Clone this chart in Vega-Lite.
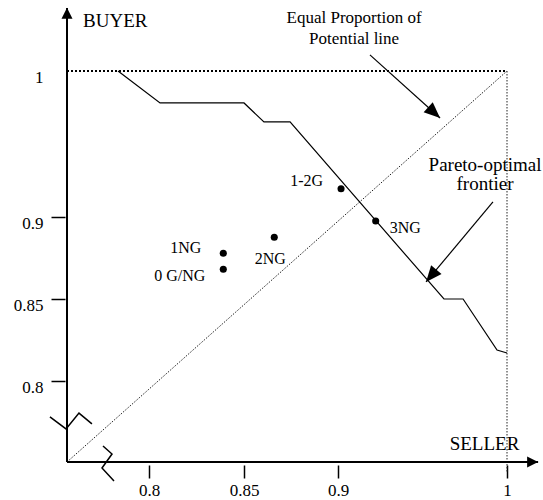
{
  "$schema": "https://vega.github.io/schema/vega-lite/v6.json",
  "width": 474,
  "height": 454,
  "autosize": "none",
  "padding": {"left": 67, "top": 8, "right": 2, "bottom": 38},
  "background": "white",
  "config": {
    "view": {"stroke": null},
    "font": "Liberation Serif",
    "text": {"font": "Liberation Serif", "color": "black"}
  },
  "datasets": {
    "points": [
      {"label": "1-2G", "x": 0.9018, "y": 0.9194},
      {"label": "3NG", "x": 0.9223, "y": 0.8976},
      {"label": "2NG", "x": 0.8661, "y": 0.8876},
      {"label": "1NG", "x": 0.8391, "y": 0.8779},
      {"label": "0 G/NG", "x": 0.8391, "y": 0.8681}
    ]
  },
  "encoding": {
    "x": {
      "field": "x",
      "type": "quantitative",
      "scale": {"domain": [0.75, 0.8, 0.85, 0.9, 1, 1.02], "range": [0, 82, 177, 271, 440, 474], "nice": false, "zero": false},
      "axis": {
        "values": [0.8, 0.85, 0.9, 1],
        "labelExpr": "datum.value + ''",
        "title": null,
        "domain": false,
        "grid": false,
        "offset": 3,
        "tickSize": 13,
        "tickWidth": 1.5,
        "tickColor": "black",
        "labelFont": "Liberation Serif",
        "labelFontSize": 17,
        "labelColor": "black",
        "labelPadding": 4,
        "labelFlush": false,
        "labelOverlap": false
      }
    },
    "y": {
      "field": "y",
      "type": "quantitative",
      "scale": {"domain": [0.75, 0.8, 0.85, 0.9, 1, 1.043], "range": [454, 373, 291, 209, 63, 0], "nice": false, "zero": false},
      "axis": {
        "values": [0.8, 0.85, 0.9, 1],
        "labelExpr": "datum.value + ''",
        "title": null,
        "domain": false,
        "grid": false,
        "offset": 2,
        "tickSize": 14,
        "tickWidth": 1.5,
        "tickColor": "black",
        "tickOpacity": {"condition": {"test": "datum.value === 1", "value": 0}, "value": 1},
        "labelFont": "Liberation Serif",
        "labelFontSize": 17,
        "labelColor": "black",
        "labelPadding": 8,
        "labelOffset": 6,
        "labelFlush": false,
        "labelOverlap": false
      }
    }
  },
  "layer": [
    {
      "data": {"values": [{"x": 0.75, "y": 1, "x2": 1, "y2": 1}]},
      "mark": {"type": "rule", "color": "black", "strokeWidth": 2, "strokeDash": [2, 2]},
      "encoding": {"x2": {"field": "x2"}, "y2": {"field": "y2"}}
    },
    {
      "data": {"values": [{"x": 1, "y": 1, "x2": 1, "y2": 0.7432}, {"x": 0.75, "y": 0.75, "x2": 1, "y2": 1}]},
      "mark": {"type": "rule", "color": "#222", "strokeWidth": 1, "strokeDash": [1.5, 1.5]},
      "encoding": {"x2": {"field": "x2"}, "y2": {"field": "y2"}}
    },
    {
      "data": {"values": [{"x": 0.75, "y": 0.75, "x2": 1.0183, "y2": 0.75}, {"x": 0.75, "y": 0.75, "x2": 0.75, "y2": 1.043}]},
      "mark": {"type": "rule", "color": "black", "strokeWidth": 2},
      "encoding": {"x2": {"field": "x2"}, "y2": {"field": "y2"}}
    },
    {
      "data": {"values": [{"x": 1.0183, "y": 0.75}]},
      "mark": {"type": "point", "shape": "M0,0 L-2,-1 L-2,1 Z", "size": 121, "filled": true, "color": "black", "opacity": 1, "angle": 0}
    },
    {
      "data": {"values": [{"x": 0.75, "y": 1.0432}]},
      "mark": {"type": "point", "shape": "M0,0 L-2,-1 L-2,1 Z", "size": 121, "filled": true, "color": "black", "opacity": 1, "angle": 270}
    },
    {
      "data": {"values": [
        {"g": "ybreak", "i": 0, "x": 0.7396, "y": 0.7778},
        {"g": "ybreak", "i": 1, "x": 0.7494, "y": 0.7704},
        {"g": "ybreak", "i": 2, "x": 0.7573, "y": 0.7802},
        {"g": "ybreak", "i": 3, "x": 0.7652, "y": 0.7735},
        {"g": "xbreak", "i": 0, "x": 0.77195, "y": 0.75988},
        {"g": "xbreak", "i": 1, "x": 0.77744, "y": 0.75494},
        {"g": "xbreak", "i": 2, "x": 0.77134, "y": 0.7463},
        {"g": "xbreak", "i": 3, "x": 0.77866, "y": 0.73827}
      ]},
      "mark": {"type": "line", "color": "black", "strokeWidth": 1.5},
      "encoding": {"detail": {"field": "g"}, "order": {"field": "i", "type": "quantitative"}}
    },
    {
      "data": {"values": [
        {"x": 0.7811, "y": 1},
        {"x": 0.8058, "y": 0.9781},
        {"x": 0.85, "y": 0.9781},
        {"x": 0.8606, "y": 0.9651},
        {"x": 0.8745, "y": 0.9651},
        {"x": 0.9627, "y": 0.85},
        {"x": 0.974, "y": 0.85},
        {"x": 0.9941, "y": 0.8189},
        {"x": 1.0, "y": 0.8171}
      ]},
      "mark": {"type": "line", "color": "black", "strokeWidth": 1.2}
    },
    {
      "data": {"name": "points"},
      "mark": {"type": "circle", "size": 50, "color": "black", "opacity": 1}
    },
    {
      "data": {"name": "points"},
      "transform": [{"filter": "datum.label === '1-2G'"}],
      "mark": {"type": "text", "align": "right", "baseline": "middle", "dx": -18, "dy": -8, "fontSize": 16},
      "encoding": {"text": {"field": "label"}}
    },
    {
      "data": {"name": "points"},
      "transform": [{"filter": "datum.label === '3NG'"}],
      "mark": {"type": "text", "align": "left", "baseline": "middle", "dx": 14, "dy": 7, "fontSize": 16},
      "encoding": {"text": {"field": "label"}}
    },
    {
      "data": {"name": "points"},
      "transform": [{"filter": "datum.label === '2NG'"}],
      "mark": {"type": "text", "align": "center", "baseline": "middle", "dx": -4, "dy": 22, "fontSize": 16},
      "encoding": {"text": {"field": "label"}}
    },
    {
      "data": {"name": "points"},
      "transform": [{"filter": "datum.label === '1NG'"}],
      "mark": {"type": "text", "align": "right", "baseline": "middle", "dx": -22, "dy": -5, "fontSize": 16},
      "encoding": {"text": {"field": "label"}}
    },
    {
      "data": {"name": "points"},
      "transform": [{"filter": "datum.label === '0 G/NG'"}],
      "mark": {"type": "text", "align": "right", "baseline": "middle", "dx": -18, "dy": 7, "fontSize": 16},
      "encoding": {"text": {"field": "label"}}
    },
    {
      "data": {"values": [
        {"x": 0.9189, "y": 1.011, "x2": 0.9604, "y2": 0.9678},
        {"x": 0.9917, "y": 0.9103, "x2": 0.9521, "y2": 0.8604}
      ]},
      "mark": {"type": "rule", "color": "black", "strokeWidth": 1.2},
      "encoding": {"x2": {"field": "x2"}, "y2": {"field": "y2"}}
    },
    {
      "data": {"values": [{"x": 0.9604, "y": 0.9678}]},
      "mark": {"type": "point", "shape": "M0,0 L-2,-0.85 L-2,0.85 Z", "size": 256, "filled": true, "color": "black", "opacity": 1, "angle": 42}
    },
    {
      "data": {"values": [{"x": 0.9521, "y": 0.8604}]},
      "mark": {"type": "point", "shape": "M0,0 L-2,-0.85 L-2,0.85 Z", "size": 256, "filled": true, "color": "black", "opacity": 1, "angle": 130}
    },
    {
      "data": {"values": [
        {"x": 0.9095, "y": 1.0363, "label": "Equal Proportion of"},
        {"x": 0.9095, "y": 1.0219, "label": "Potential line"}
      ]},
      "mark": {"type": "text", "align": "center", "baseline": "middle", "fontSize": 17},
      "encoding": {"text": {"field": "label"}}
    },
    {
      "data": {"values": [
        {"x": 0.987, "y": 0.9356, "label": "Pareto-optimal"},
        {"x": 0.987, "y": 0.9226, "label": "frontier"},
        {"x": 0.9867, "y": 0.7611, "label": "SELLER"}
      ]},
      "mark": {"type": "text", "align": "center", "baseline": "middle", "fontSize": 19},
      "encoding": {"text": {"field": "label"}}
    },
    {
      "data": {"values": [{"x": 0.7598, "y": 1.0342, "label": "BUYER"}]},
      "mark": {"type": "text", "align": "left", "baseline": "middle", "fontSize": 19},
      "encoding": {"text": {"field": "label"}}
    }
  ]
}
